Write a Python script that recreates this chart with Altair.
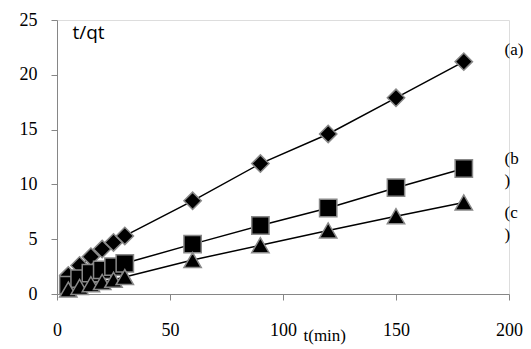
import altair as alt
import pandas as pd

times = [5, 10, 15, 20, 25, 30, 60, 90, 120, 150, 180]
series_a = [1.7, 2.6, 3.4, 4.1, 4.7, 5.3, 8.5, 11.9, 14.6, 17.9, 21.2]
series_b = [0.8, 1.4, 1.9, 2.2, 2.5, 2.8, 4.55, 6.25, 7.85, 9.7, 11.45]
series_c = [0.4, 0.65, 0.9, 1.1, 1.3, 1.55, 3.1, 4.45, 5.8, 7.1, 8.35]

series_names = ["a", "b", "c"]
series_shapes = ["diamond", "square", "triangle-up"]

label_text = ["(a)", "(b\n)", "(c\n)"]
label_x = [198, 198, 198]
label_y = [22.3, 12.3, 7.4]

rows = []
for name, vals in zip(series_names, [series_a, series_b, series_c]):
    for t, v in zip(times, vals):
        rows.append({"t": t, "v": v, "s": name})
df = pd.DataFrame(rows)
lab = pd.DataFrame({"text": label_text, "x": label_x, "y": label_y})

serif = "Times New Roman, Liberation Serif, serif"
axis_col = "#868686"
x = alt.X("t:Q", scale=alt.Scale(domain=[0, 200], nice=False),
          axis=alt.Axis(values=[0, 50, 100, 150, 200], grid=False, domainColor=axis_col,
                        tickColor=axis_col, tickSize=6, labelFont=serif, labelFlush=False,
                        labelFontSize=18, labelColor="black", labelPadding=21,
                        title="t(min)", titleFont=serif, titleFontSize=17,
                        titleFontWeight="normal", titleColor="black",
                        titleX=246, titleY=41, titleAlign="left", titleBaseline="middle"))
y = alt.Y("v:Q", scale=alt.Scale(domain=[0, 25], nice=False),
          axis=alt.Axis(values=[0, 5, 10, 15, 20, 25], grid=False, domainColor=axis_col,
                        tickColor=axis_col, tickSize=6, labelFont=serif, labelFlush=False,
                        labelFontSize=18, labelColor="black", labelPadding=14,
                        title="t/qt", titleFont="Open Sans", titleFontSize=19,
                        titleFontWeight="normal", titleColor="black", titleAngle=0,
                        titleX=15, titleY=12, titleAlign="left", titleBaseline="middle"))

lines = alt.Chart(df).mark_line(color="black", strokeWidth=1.5).encode(
    x=x, y=y, detail="s:N")
points = alt.Chart(df).mark_point(filled=True, fill="black", stroke="#888888",
                                  strokeWidth=1.5, opacity=1, size=300).encode(
    x=x, y=y,
    shape=alt.Shape("s:N", scale=alt.Scale(domain=series_names, range=series_shapes), legend=None))
labels = alt.Chart(lab).mark_text(align="left", baseline="middle", font=serif,
                                  fontSize=17, color="black", lineBreak="\n",
                                  lineHeight=22).encode(
    x=alt.X("x:Q", scale=alt.Scale(domain=[0, 200], nice=False)),
    y=alt.Y("y:Q", scale=alt.Scale(domain=[0, 25], nice=False)),
    text="text:N")

chart = alt.layer(lines, points, labels).properties(
    width=452, height=274,
    autosize=alt.AutoSizeParams(type="none"),
    padding={"left": 49, "top": 12, "right": 14, "bottom": 52},
).configure_view(stroke=None).configure(background="white")

chart.save("out.html", embed_options={"renderer": "svg", "actions": False})
